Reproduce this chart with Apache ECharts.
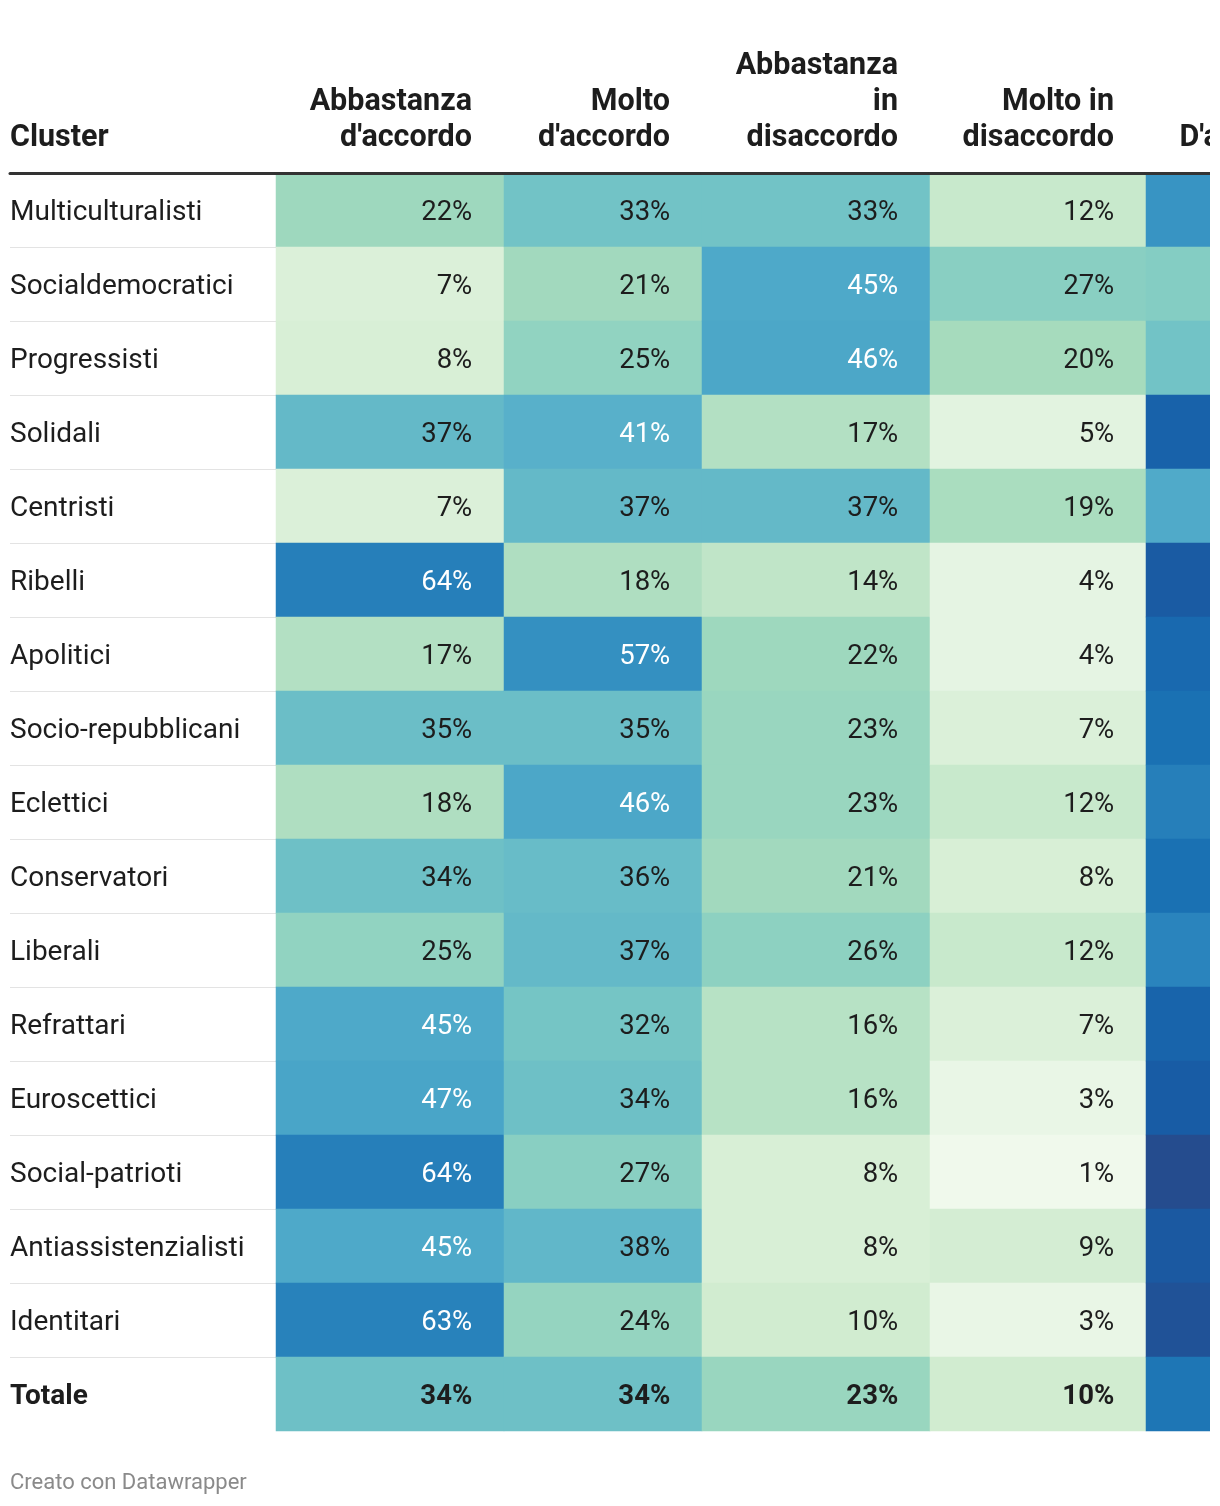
<!DOCTYPE html>
<html>
<head>
<meta charset="utf-8">
<script src="https://cdn.jsdelivr.net/npm/echarts@6/dist/echarts.min.js"></script>
<style>
  html, body { margin: 0; padding: 0; background: #ffffff; }
  #chart { width: 1210px; height: 1506px; }
</style>
</head>
<body>
<div id="chart"></div>
<script>
const clusters = ["Multiculturalisti","Socialdemocratici","Progressisti","Solidali","Centristi","Ribelli","Apolitici","Socio-repubblicani","Eclettici","Conservatori","Liberali","Refrattari","Euroscettici","Social-patrioti","Antiassistenzialisti","Identitari","Totale"];
const headers = ["Abbastanza\nd'accordo","Molto\nd'accordo","Abbastanza\nin\ndisaccordo","Molto in\ndisaccordo","D'accordo"];
const abbastanzaAccordo   = [22, 7, 8,37, 7,64,17,35,18,34,25,45,47,64,45,63,34];
const moltoAccordo        = [33,21,25,41,37,18,57,35,46,36,37,32,34,27,38,24,34];
const abbastanzaDisaccordo= [33,45,46,17,37,14,22,23,23,21,26,16,16, 8, 8,10,23];
const moltoDisaccordo     = [12,27,20, 5,19, 4, 4, 7,12, 8,12, 7, 3, 1, 9, 3,10];
const accordoTotale       = [55,28,33,78,44,82,74,70,64,70,62,77,81,91,83,87,68];
const columns = [abbastanzaAccordo, moltoAccordo, abbastanzaDisaccordo, moltoDisaccordo, accordoTotale];

// layout (styles only)
const FONT = 'Roboto';
const TOP = 173, H = 1258;
const colLeft  = [276, 504, 702, 930, 1146];
const colWidth = [228, 198, 228, 216, 200];
const PAD = 32;
const TXT = '#1d1d1d';
const HEAD_FS = 30.5, BODY_FS = 28, VAL_FS = 27.5;

// row separator colours: last (bottom) line hidden
const sepColors = clusters.map(() => '#e3e3e3').concat(['rgba(0,0,0,0)']);

const grids = [{left: 10, top: TOP, width: 266, height: H, outerBoundsMode: 'none', containLabel: false}];
const xAxes = [{
  gridIndex: 0, type: 'category', position: 'top', data: [''],
  axisLine: {show: true, lineStyle: {color: '#333333', width: 3}},
  axisTick: {show: false}, axisLabel: {show: false}, splitLine: {show: false}, z: 10
}];
const yAxes = [{
  gridIndex: 0, type: 'category', inverse: true, data: clusters,
  axisLine: {show: false}, axisTick: {show: false},
  axisLabel: {
    inside: true, margin: 0, color: TXT, fontSize: BODY_FS, fontFamily: FONT,
    verticalAlign: 'middle', padding: [6, 0, 0, 0],
    formatter: v => v === 'Totale' ? '{b|' + v + '}' : v,
    rich: {b: {fontWeight: 'bold', fontSize: BODY_FS, fontFamily: FONT, color: TXT}}
  },
  splitLine: {show: true, lineStyle: {color: sepColors, width: 1}}
}];
const series = [];
const titles = [{
  text: 'Cluster', left: 10, top: 156, textVerticalAlign: 'bottom', padding: 0,
  textStyle: {fontFamily: FONT, fontSize: HEAD_FS, fontWeight: 'bold', color: TXT, lineHeight: 36}
}];

columns.forEach((vals, i) => {
  const gi = i + 1;
  grids.push({left: colLeft[i], top: TOP, width: colWidth[i], height: H, outerBoundsMode: 'none', containLabel: false});
  xAxes.push({
    gridIndex: gi, type: 'category', position: 'top', data: [headers[i]],
    axisLine: {show: true, lineStyle: {color: '#333333', width: 3}},
    axisTick: {show: false}, axisLabel: {show: false}, splitLine: {show: false}, z: 10
  });
  yAxes.push({gridIndex: gi, type: 'category', inverse: true, data: clusters, show: false});
  series.push({
    type: 'heatmap', xAxisIndex: gi, yAxisIndex: gi,
    data: vals.map((v, r) => ({
      value: [0, r, v],
      label: {
        color: v >= 40 ? '#ffffff' : TXT,
        fontWeight: clusters[r] === 'Totale' ? 'bold' : 'normal'
      }
    })),
    label: {
      show: true, position: 'insideRight', distance: PAD, offset: [0, 3],
      fontFamily: FONT, fontSize: VAL_FS,
      formatter: p => p.value[2] + '%'
    },
    emphasis: {disabled: true},
    itemStyle: {borderWidth: 0}
  });
  titles.push({
    text: headers[i], left: colLeft[i] + colWidth[i] - PAD, top: 156,
    textAlign: 'right', textVerticalAlign: 'bottom', padding: 0,
    textStyle: {fontFamily: FONT, fontSize: HEAD_FS, fontWeight: 'bold', color: TXT, lineHeight: 36, align: 'right'}
  });
});

titles.push({
  text: 'Creato con Datawrapper', left: 10, top: 1483, textVerticalAlign: 'middle', padding: 0,
  textStyle: {fontFamily: FONT, fontSize: 22, fontWeight: 'normal', color: '#8a8a8a'}
});

const chart = echarts.init(document.getElementById('chart'), null, {renderer: 'canvas'});
chart.setOption({
  backgroundColor: '#ffffff',
  animation: false,
  title: titles,
  grid: grids,
  xAxis: xAxes,
  yAxis: yAxes,
  visualMap: {
    type: 'continuous', show: false, min: 0, max: 100, dimension: 2,
    seriesIndex: [0, 1, 2, 3, 4],
    inRange: {color: ['#f3faef','#d1ecd0','#a6dbbd','#7ccac4','#5ab2ca','#429fc7','#2e89bf','#1a71b3','#175ea8','#244d8f','#2a4080']}
  },
  tooltip: {show: false},
  series: series
});
</script>
</body>
</html>
